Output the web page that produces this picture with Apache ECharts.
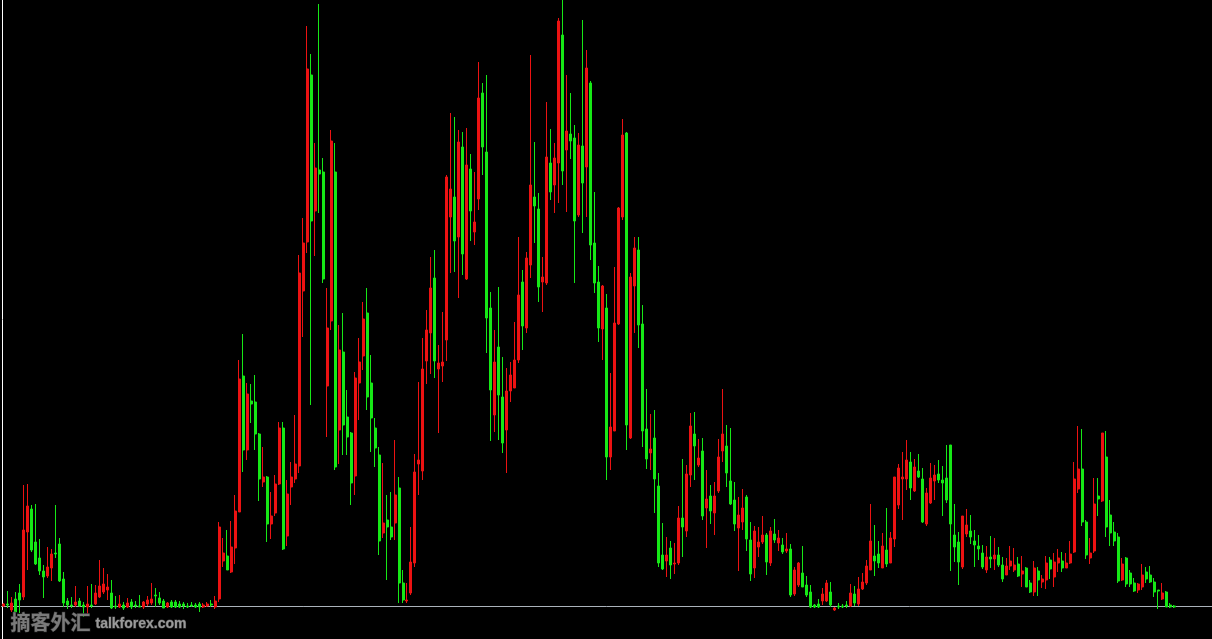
<!DOCTYPE html>
<html>
<head>
<meta charset="utf-8">
<style>html,body{margin:0;padding:0;background:#000;overflow:hidden}#c{width:1212px;height:639px}</style>
<script src="https://cdn.jsdelivr.net/npm/echarts@6/dist/echarts.min.js"></script>
</head>
<body>
<div id="c"></div>
<script>
const opens = [
0,2,-4,7,13,9,74,97,64,48,
35,30,38,53,62,27,5,1,1,5,
1,-1,1,2,9,14,16,13,0,-1,
1,-1,4,1,0,-1,2,3,11,8,
5,-1,4,4,2,2,0,1,1,2,
-1,0,2,-1,7,45,50,34,58,94,
230,156,205,204,172,124,129,82,93,122,
178,70,119,127,140,315,364,531,395,436,
434,220,285,434,176,254,189,173,130,223,
250,293,223,178,151,73,86,79,83,118,
23,5,13,43,142,135,245,273,328,237,
240,266,389,409,369,459,327,437,374,407,
513,454,298,191,259,209,176,215,218,246,
324,278,341,409,397,324,323,443,421,443,
571,456,472,468,391,460,439,523,363,324,
277,298,149,175,282,389,473,168,320,356,
282,177,153,168,120,51,45,58,42,43,
88,75,131,172,141,155,98,110,93,115,
155,160,125,106,78,84,109,66,38,59,
64,71,43,72,63,61,55,57,12,21,
33,21,14,1,2,5,5,14,-4,0,
0,1,0,12,2,17,23,36,50,52,
38,56,43,67,101,127,127,144,115,135,
127,82,103,125,132,126,128,161,71,64,
39,72,75,65,60,53,36,49,47,51,
41,31,40,36,42,32,38,23,14,35,
24,26,46,29,43,45,38,43,54,117,
137,84,48,55,110,105,149,91,74,69,
26,48,33,23,16,19,34,31,24,16,
7,14,1,0];
const closes = [
2,1,3,-6,6,76,100,56,42,35,
29,39,52,52,25,3,1,0,4,0,
-1,2,0,13,20,22,19,-2,-1,2,
-2,3,-1,0,-1,4,6,7,10,3,
-2,3,-1,-1,-1,0,-1,0,-1,-1,
1,2,1,5,79,53,36,59,95,227,
156,212,202,172,127,129,82,90,122,178,
57,112,129,142,333,363,537,385,438,432,
327,278,465,139,256,181,169,123,228,244,
287,209,188,158,65,83,79,69,111,23,
6,6,44,134,146,237,276,318,245,243,
244,429,417,365,464,352,441,395,384,508,
459,288,216,244,211,163,215,231,246,311,
280,348,421,400,319,329,449,414,448,585,
435,475,465,385,461,423,538,361,323,278,
320,149,179,283,398,471,181,329,358,281,
175,147,157,127,43,37,51,41,43,88,
79,132,180,160,148,90,107,95,110,149,
172,133,102,82,91,98,67,32,75,64,
71,44,75,66,68,54,57,11,36,43,
19,11,-1,-1,-1,12,23,1,-2,-1,
-1,0,13,3,17,24,40,65,45,43,
60,42,68,129,138,129,146,118,139,129,
84,113,128,131,126,123,106,82,59,44,
90,81,69,61,57,39,49,47,51,41,
27,40,45,41,30,35,19,14,38,26,
27,43,37,44,48,38,43,52,127,137,
84,51,53,102,107,173,79,73,65,25,
42,22,22,15,22,31,27,24,14,15,
13,-1,-1,-1];
const lows = [
-1,-2,-6,-9,-7,6,36,54,41,31,
8,28,25,48,24,-1,-3,-2,-1,-1,
-11,-9,-2,1,8,12,6,-3,-3,-2,
-4,-2,-3,-2,-1,-3,0,1,-1,1,
-2,-2,-2,-2,-2,-3,-2,-1,-2,-6,
-2,-1,-1,-3,4,39,36,33,42,94,
134,146,183,156,105,119,64,67,90,121,
56,60,101,123,133,269,353,201,350,393,
323,169,276,136,142,151,151,101,111,186,
236,196,154,139,51,68,26,66,66,3,
3,3,11,39,111,126,222,232,228,173,
224,245,333,334,308,331,326,365,361,396,
431,253,165,174,166,153,133,204,218,243,
256,273,328,363,304,294,321,406,393,403,
421,394,447,323,389,373,389,346,313,264,
246,126,136,175,281,386,156,167,273,258,
159,137,136,93,39,36,29,27,32,41,
49,69,119,126,139,86,58,82,71,113,
144,119,101,75,35,76,55,25,28,49,
62,31,40,63,55,52,53,9,10,19,
19,9,-2,-2,-2,1,4,-1,-5,-3,
-2,-2,-1,0,0,16,21,36,30,38,
38,39,43,59,97,86,116,106,114,128,
83,80,102,106,123,90,103,35,44,21,
37,69,62,39,46,37,33,38,36,39,
24,31,36,34,29,19,19,13,10,10,
18,17,27,19,34,34,38,42,53,113,
80,47,42,53,90,104,69,60,60,23,
25,19,19,14,13,16,23,23,9,-3,
6,-1,-2,-2];
const highs = [
3,15,9,14,22,121,122,101,102,67,
41,59,57,101,68,34,8,9,20,8,
4,20,22,21,46,38,32,26,10,11,
4,8,7,5,11,5,10,23,18,14,
7,4,6,6,5,4,3,4,3,4,
3,4,6,10,84,68,76,85,111,246,
272,223,222,231,173,159,130,114,131,184,
184,126,144,191,351,388,580,552,463,602,
448,318,476,463,281,293,216,174,234,268,
304,318,251,188,159,143,111,114,166,129,
36,23,79,152,224,268,296,349,356,261,
294,431,493,489,476,474,478,452,434,544,
523,531,314,276,319,249,238,244,284,369,
336,354,551,464,413,349,504,477,463,588,
606,531,513,481,473,586,556,525,414,340,
321,312,233,339,399,487,474,333,369,369,
301,217,192,196,133,83,69,65,63,100,
147,141,193,194,167,168,136,121,124,167,
217,181,178,124,109,117,111,84,80,79,
90,73,79,87,76,68,73,62,39,44,
60,30,21,2,7,18,26,24,-1,3,
2,5,22,20,29,33,46,102,81,65,
73,98,74,129,142,154,166,154,147,152,
138,118,143,141,146,140,161,161,102,74,
90,97,91,76,71,61,60,70,68,59,
49,48,60,58,49,50,39,26,45,39,
31,50,49,53,57,54,53,65,144,180,
177,86,68,128,128,173,175,106,84,73,
48,49,36,28,23,42,39,40,28,16,
23,15,3,1];
const SLOTS = 303;
const categories = Array.from({length: SLOTS}, (_, i) => String(i));
const candleData = opens.map((o, i) => [o, closes[i], lows[i], highs[i]]);
const watermarkCn = '摘客外汇';
const watermarkEn = 'talkforex.com';

const chart = echarts.init(document.getElementById('c'), null, {renderer: 'canvas'});
chart.setOption({
  animation: false,
  backgroundColor: '#000',
  grid: {left: 1.5, top: 0, width: 1212, height: 639, containLabel: false},
  xAxis: {
    type: 'category', data: categories, boundaryGap: true,
    axisLine: {show: true, onZero: true, lineStyle: {color: '#aab2ba', width: 1}},
    axisTick: {show: false}, axisLabel: {show: false}, splitLine: {show: false}
  },
  yAxis: {
    type: 'value', min: -33, max: 606, scale: false, offset: -1,
    axisLine: {show: true, onZero: false, lineStyle: {color: '#fff', width: 1}},
    axisTick: {show: false}, axisLabel: {show: false}, splitLine: {show: false}
  },
  series: [{
    type: 'candlestick', data: candleData, barWidth: 2.5,
    itemStyle: {color: '#ec1212', color0: '#16e816', borderColor: '#ec1212', borderColor0: '#16e816', borderWidth: 1}
  }],
  graphic: [
    {type: 'text', left: 10, top: 612, z: 10, style: {text: watermarkCn, fill: '#7a7a7a', font: 'bold 20px "Noto Sans CJK SC"', stroke: '#303030', lineWidth: 1}},
    {type: 'text', left: 95, top: 617, z: 10, style: {text: watermarkEn, fill: '#9a9a9a', font: 'bold 14px "Liberation Sans"', stroke: '#404040', lineWidth: 1}}
  ]
});
</script>
</body>
</html>
